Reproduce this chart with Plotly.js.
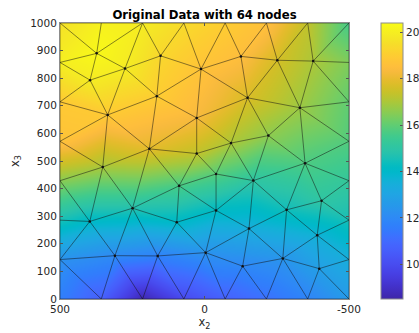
<!DOCTYPE html>
<html>
<head>
<meta charset="utf-8">
<script src="https://cdn.plot.ly/plotly-3.0.1.min.js"></script>
<style>
  html, body { margin: 0; padding: 0; background: #ffffff; }
  #chart { width: 419px; height: 333px; }
</style>
</head>
<body>
<div id="chart"></div>
<script>
// Node coordinates (x2, x3) and sampled value at each of the 64 nodes.
// First 28 are the boundary nodes, the remaining 36 are interior nodes.
const nodeX2 = [
  // top edge (x3 = 1000)
  500, 357.1, 214.3, 71.4, -71.4, -214.3, -357.1, -500,
  // bottom edge (x3 = 0)
  500, 357.1, 214.3, 71.4, -71.4, -214.3, -357.1, -500,
  // left edge (x2 = 500)
  500, 500, 500, 500, 500, 500,
  // right edge (x2 = -500)
  -500, -500, -500, -500, -500, -500,
  // interior
  373, 275, 396, 152, 12, 165, 335, 27, -126, -252, -376, -149,
  -330, 191, 27, 352, 88, 249, -92, -221, -348, -40, -169, -405,
  397, 96, 310, 162, -4, -40, -154, -284, -390, -271, -132, -397
];
const nodeX3 = [
  1000, 1000, 1000, 1000, 1000, 1000, 1000, 1000,
  0, 0, 0, 0, 0, 0, 0, 0,
  857.1, 714.3, 571.4, 428.6, 285.7, 142.9,
  857.1, 714.3, 571.4, 428.6, 285.7, 142.9,
  890, 835, 793, 881, 833, 735, 667, 656, 879, 865, 862, 729,
  693, 544, 527, 478, 410, 329, 565, 592, 492, 453, 429, 356,
  281, 278, 157, 156, 168, 321, 255, 323, 231, 147, 119, 110
];
const nodeValue = [
  19.6, 20.1, 19.9, 19.4, 19.0, 18.6, 17.3, 15.6,
  11.6, 10.6, 8.6, 9.9, 10.7, 11.2, 11.8, 12.6,
  20.0, 18.9, 18.7, 16.5, 14.5, 12.3,
  16.4, 16.0, 15.8, 15.2, 14.5, 13.4,
  20.3, 19.9, 19.9, 19.3, 18.7, 19.0, 18.9, 18.3, 18.5, 17.6, 17.0, 17.7,
  16.8, 17.9, 17.3, 16.9, 15.6, 14.7, 17.0, 16.6, 15.7, 15.8, 15.0, 15.0,
  14.0, 14.0, 12.0, 11.7, 12.3, 14.1, 13.4, 14.4, 13.6, 12.4, 11.9, 12.8
];

const colorTicks = [10, 12, 14, 16, 18, 20];
const yTicks = [0, 100, 200, 300, 400, 500, 600, 700, 800, 900, 1000];
const xTicks = [500, 0, -500];

// Parula colormap, 64 entries
const parulaRGB = [
  [0.2422,0.1504,0.6603],[0.2504,0.1650,0.7076],[0.2578,0.1818,0.7511],[0.2647,0.1978,0.7952],
  [0.2706,0.2147,0.8364],[0.2751,0.2342,0.8710],[0.2783,0.2559,0.8991],[0.2803,0.2782,0.9221],
  [0.2813,0.3006,0.9414],[0.2810,0.3228,0.9579],[0.2795,0.3447,0.9717],[0.2760,0.3667,0.9829],
  [0.2699,0.3892,0.9906],[0.2602,0.4123,0.9952],[0.2440,0.4358,0.9988],[0.2206,0.4603,0.9973],
  [0.1963,0.4847,0.9892],[0.1834,0.5074,0.9798],[0.1786,0.5289,0.9682],[0.1764,0.5499,0.9520],
  [0.1687,0.5703,0.9359],[0.1540,0.5902,0.9218],[0.1460,0.6091,0.9079],[0.1380,0.6276,0.8973],
  [0.1248,0.6459,0.8883],[0.1113,0.6635,0.8763],[0.0952,0.6798,0.8598],[0.0689,0.6948,0.8394],
  [0.0297,0.7082,0.8163],[0.0036,0.7203,0.7917],[0.0067,0.7312,0.7660],[0.0433,0.7411,0.7394],
  [0.0964,0.7500,0.7120],[0.1408,0.7584,0.6842],[0.1717,0.7670,0.6554],[0.1938,0.7758,0.6251],
  [0.2161,0.7843,0.5923],[0.2470,0.7918,0.5567],[0.2906,0.7973,0.5188],[0.3406,0.8008,0.4789],
  [0.3909,0.8029,0.4354],[0.4456,0.8024,0.3909],[0.5044,0.7993,0.3480],[0.5616,0.7942,0.3045],
  [0.6174,0.7876,0.2612],[0.6720,0.7793,0.2227],[0.7242,0.7698,0.1910],[0.7738,0.7598,0.1646],
  [0.8203,0.7498,0.1535],[0.8634,0.7406,0.1596],[0.9035,0.7330,0.1774],[0.9393,0.7288,0.2100],
  [0.9728,0.7298,0.2394],[0.9956,0.7434,0.2371],[0.9970,0.7659,0.2199],[0.9952,0.7893,0.2028],
  [0.9892,0.8136,0.1885],[0.9786,0.8386,0.1766],[0.9676,0.8639,0.1643],[0.9610,0.8890,0.1537],
  [0.9597,0.9135,0.1423],[0.9628,0.9373,0.1265],[0.9691,0.9606,0.1064],[0.9769,0.9839,0.0805]
];
const parula = parulaRGB.map((c, i) => [i / (parulaRGB.length - 1),
  'rgb(' + c.map(v => Math.round(v * 255)).join(',') + ')']);

// Bowyer-Watson Delaunay triangulation
function delaunay(xs, ys) {
  const n = xs.length;
  const px = xs.slice(), py = ys.slice();
  const M = 1e5;
  px.push(-M, M, 0); py.push(-M, -M, M);
  function circ(a, b, c) {
    const ax = px[a], ay = py[a], bx = px[b], by = py[b], cx = px[c], cy = py[c];
    const d = 2 * (ax * (by - cy) + bx * (cy - ay) + cx * (ay - by));
    const ux = ((ax*ax + ay*ay) * (by - cy) + (bx*bx + by*by) * (cy - ay) + (cx*cx + cy*cy) * (ay - by)) / d;
    const uy = ((ax*ax + ay*ay) * (cx - bx) + (bx*bx + by*by) * (ax - cx) + (cx*cx + cy*cy) * (bx - ax)) / d;
    return { x: ux, y: uy, r2: (ax - ux) ** 2 + (ay - uy) ** 2 };
  }
  let tris = [{ v: [n, n + 1, n + 2], c: circ(n, n + 1, n + 2) }];
  for (let i = 0; i < n; i++) {
    const bad = [], keep = [];
    for (const t of tris) {
      const dx = px[i] - t.c.x, dy = py[i] - t.c.y;
      if (dx * dx + dy * dy < t.c.r2 * (1 - 1e-12)) bad.push(t); else keep.push(t);
    }
    const edgeCount = new Map();
    for (const t of bad) {
      for (let k = 0; k < 3; k++) {
        const a = t.v[k], b = t.v[(k + 1) % 3];
        const key = a < b ? a + ',' + b : b + ',' + a;
        edgeCount.set(key, (edgeCount.get(key) || 0) + 1);
      }
    }
    for (const [key, cnt] of edgeCount) {
      if (cnt !== 1) continue;
      const [a, b] = key.split(',').map(Number);
      keep.push({ v: [a, b, i], c: circ(a, b, i) });
    }
    tris = keep;
  }
  return tris.filter(t => t.v.every(k => k < n)).map(t => t.v);
}

const triangles = delaunay(nodeX2, nodeX3);

// Piecewise-linear surface sampled on a raster for interpolated shading
const nx = 290, ny = 276;
const gx = [], gy = [];
for (let i = 0; i < nx; i++) gx.push(-500 + 1000 * i / (nx - 1));
for (let j = 0; j < ny; j++) gy.push(1000 * j / (ny - 1));
const gz = gy.map(() => new Array(nx).fill(null));
for (const [a, b, c] of triangles) {
  const ax = nodeX2[a], ay = nodeX3[a], bx = nodeX2[b], by = nodeX3[b], cx = nodeX2[c], cy = nodeX3[c];
  const det = (by - cy) * (ax - cx) + (cx - bx) * (ay - cy);
  const minX = Math.min(ax, bx, cx), maxX = Math.max(ax, bx, cx);
  const minY = Math.min(ay, by, cy), maxY = Math.max(ay, by, cy);
  const i0 = Math.max(0, Math.floor((minX + 500) / 1000 * (nx - 1))), i1 = Math.min(nx - 1, Math.ceil((maxX + 500) / 1000 * (nx - 1)));
  const j0 = Math.max(0, Math.floor(minY / 1000 * (ny - 1))), j1 = Math.min(ny - 1, Math.ceil(maxY / 1000 * (ny - 1)));
  for (let j = j0; j <= j1; j++) {
    for (let i = i0; i <= i1; i++) {
      const x = gx[i], y = gy[j];
      const l1 = ((by - cy) * (x - cx) + (cx - bx) * (y - cy)) / det;
      const l2 = ((cy - ay) * (x - cx) + (ax - cx) * (y - cy)) / det;
      const l3 = 1 - l1 - l2;
      const eps = -1e-9;
      if (l1 >= eps && l2 >= eps && l3 >= eps) {
        gz[j][i] = l1 * nodeValue[a] + l2 * nodeValue[b] + l3 * nodeValue[c];
      }
    }
  }
}

// Unique triangle edges as one broken line
const edgeSet = new Set();
const ex = [], ey = [];
for (const t of triangles) {
  for (let k = 0; k < 3; k++) {
    const a = t[k], b = t[(k + 1) % 3];
    const key = a < b ? a + ',' + b : b + ',' + a;
    if (edgeSet.has(key)) continue;
    edgeSet.add(key);
    ex.push(nodeX2[a], nodeX2[b], null);
    ey.push(nodeX3[a], nodeX3[b], null);
  }
}

const font = { family: 'DejaVu Sans, sans-serif', size: 10.5, color: '#262626' };

const surface = {
  type: 'heatmap', x: gx, y: gy, z: gz,
  colorscale: parula, zmin: 8.5, zmax: 20.4, zsmooth: 'best',
  hoverinfo: 'skip',
  colorbar: {
    xref: 'container', x: 381 / 419, xanchor: 'left', xpad: 0, ypad: 0,
    y: 0.5, yanchor: 'middle', len: 1, lenmode: 'fraction',
    thickness: 22, thicknessmode: 'pixels',
    outlinewidth: 1, outlinecolor: '#8c8c8c',
    tickvals: colorTicks, ticks: 'inside', ticklen: 3, tickcolor: '#555555',
    tickfont: font
  }
};

const mesh = {
  type: 'scatter', mode: 'lines', x: ex, y: ey,
  line: { color: 'rgba(20,20,20,0.85)', width: 0.6 },
  hoverinfo: 'skip', showlegend: false
};

const nodes = {
  type: 'scatter', mode: 'markers', x: nodeX2.slice(28), y: nodeX3.slice(28),
  marker: { color: '#111111', size: 2.5 },
  hoverinfo: 'skip', showlegend: false
};

const layout = {
  width: 419, height: 333,
  margin: { l: 60, r: 70, t: 23, b: 34, pad: 0, autoexpand: false },
  paper_bgcolor: '#ffffff', plot_bgcolor: '#ffffff',
  font: font,
  showlegend: false,
  title: {
    text: '<b>Original Data with 64 nodes</b>',
    font: { family: 'DejaVu Sans, sans-serif', size: 11.7, color: '#000000' },
    x: 0.5, xref: 'paper', y: 1 - 14.5 / 333, yref: 'container', yanchor: 'middle'
  },
  xaxis: {
    range: [500, -500], tickvals: xTicks, ticktext: xTicks.map(String),
    ticks: 'inside', ticklen: 3, tickcolor: '#555555',
    showline: true, linecolor: '#8c8c8c', linewidth: 1, mirror: 'ticks',
    showgrid: false, zeroline: false, tickfont: font, automargin: false,
    title: { text: 'x<sub>2</sub>', font: { family: 'DejaVu Sans, sans-serif', size: 11.5, color: '#262626' }, standoff: 4 }
  },
  yaxis: {
    range: [0, 1000], tickvals: yTicks,
    ticks: 'inside', ticklen: 3, tickcolor: '#555555',
    showline: true, linecolor: '#8c8c8c', linewidth: 1, mirror: 'ticks',
    showgrid: false, zeroline: false, tickfont: font, automargin: false,
    title: { text: 'x<sub>3</sub>', font: { family: 'DejaVu Sans, sans-serif', size: 11.5, color: '#262626' }, standoff: 8 }
  }
};

Plotly.newPlot('chart', [surface, mesh, nodes], layout, { displayModeBar: false, staticPlot: true });
</script>
</body>
</html>
